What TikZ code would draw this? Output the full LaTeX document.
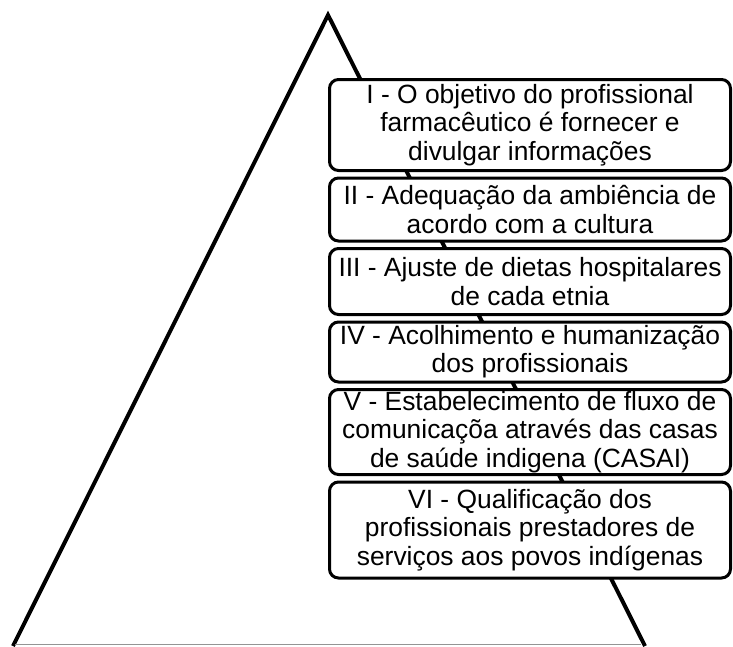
\documentclass[tikz,border=0pt]{standalone}
\usepackage{fontspec}
\setmainfont{Liberation Sans}
\usetikzlibrary{positioning}

\begin{document}
\begin{tikzpicture}[x=1pt,y=-1pt,node distance=4.5pt,
			side/.style={line width=4pt},
			base/.style={line width=1pt,draw=black!42},
			level box/.style={rectangle,rounded corners=9pt,draw,line width=3pt,fill=white,
				minimum width=401pt,inner sep=0pt,align=center,
				font=\fontsize{26.4}{28.3}\selectfont}]

		\useasboundingbox (0,0) rectangle (733,646);

		\coordinate (apex) at (328,15);
		\coordinate (bl) at (13,646);
		\coordinate (br) at (645,646);
		\coordinate (gl) at (15,644.5);
		\coordinate (gr) at (641,644.5);

		\draw[side] (bl) -- (apex) -- (br);
		\draw[base] (gl) -- (gr);

		\node[level box,minimum height=91pt,anchor=north] (1) at (530,78)
			{I - O objetivo do profissional\\farmacêutico é fornecer e\\divulgar informações};
		\node[level box,minimum height=63pt] (2) [below=of 1]
			{II - Adequação da ambiência de\\acordo com a cultura};
		\node[level box,minimum height=66pt] (3) [below=of 2]
			{III - Ajuste de dietas hospitalares\\de cada etnia};
		\node[level box,minimum height=60pt] (4) [below=of 3]
			{IV - Acolhimento e humanização\\dos profissionais};
		\node[level box,minimum height=85pt] (5) [below=of 4]
			{V - Estabelecimento de fluxo de\\comunicaçõa através das casas\\de saúde indigena (CASAI)};
		\node[level box,minimum height=96pt] (6) [below=of 5]
			{VI - Qualificação dos\\profissionais prestadores de\\serviços aos povos indígenas};
	\end{tikzpicture}
\end{document}
